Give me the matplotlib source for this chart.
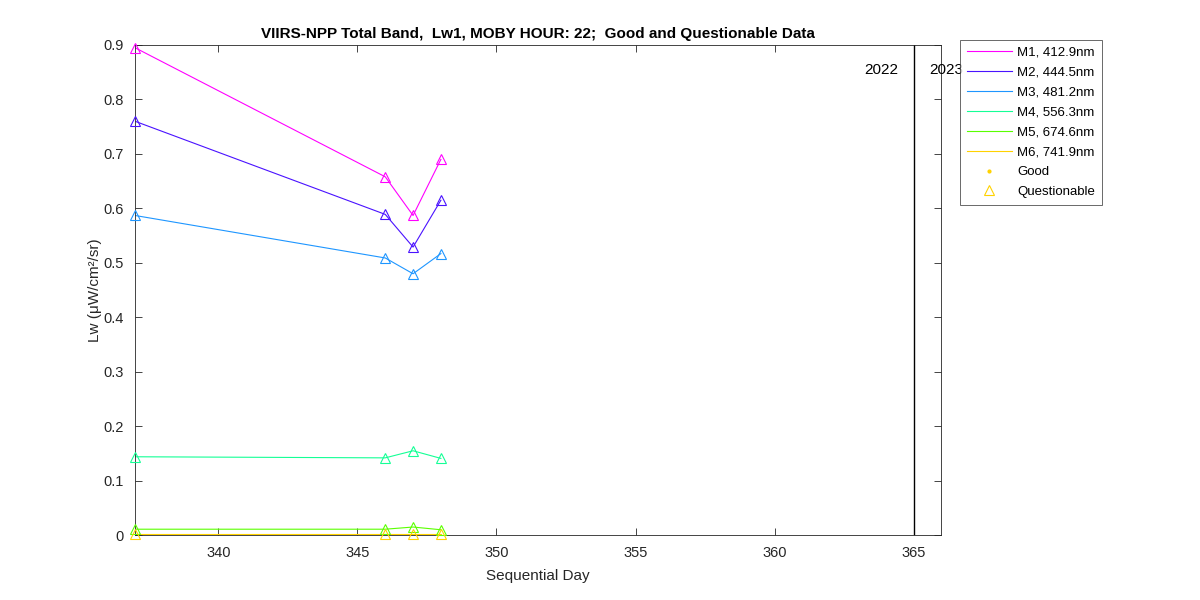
import matplotlib.pyplot as plt

plt.rcParams['font.family'] = ['Liberation Sans', 'DejaVu Sans']

days = [337, 346, 347, 348]
bands = ['M1, 412.9nm', 'M2, 444.5nm', 'M3, 481.2nm',
         'M4, 556.3nm', 'M5, 674.6nm', 'M6, 741.9nm']
lw_m1 = [0.895, 0.658, 0.587, 0.690]
lw_m2 = [0.760, 0.589, 0.529, 0.615]
lw_m3 = [0.587, 0.509, 0.480, 0.517]
lw_m4 = [0.144, 0.142, 0.155, 0.141]
lw_m5 = [0.011, 0.011, 0.015, 0.010]
lw_m6 = [0.002, 0.002, 0.002, 0.002]
colors = ['#ff00ff', '#4a12ff', '#1e96ff', '#14ff96', '#5aff00', '#ffd200']

year_end = 365
text_col = '#262626'

fig = plt.figure(figsize=(12, 6), dpi=100)
ax = fig.add_axes([0.1125, 0.108, 0.672, 0.817])

series = [lw_m1, lw_m2, lw_m3, lw_m4, lw_m5, lw_m6]
for vals, c, name in zip(series, colors, bands):
    ax.plot(days, vals, '-', color=c, lw=0.8, label=name)
for vals, c in zip(series, colors):
    ax.plot(days, vals, '^', color=c, mfc='none', ms=7, mew=0.8, clip_on=False, zorder=4)

# legend proxies for flags
ax.plot([], [], '.', color='#ffd200', ms=4, label='Good')
ax.plot([], [], '^', color='#ffd200', mfc='none', ms=7, mew=0.8, label='Questionable')

ax.axvline(year_end, color='k', lw=1)
ax.text(year_end - 0.55, 0.855, '2022', ha='right', va='center', fontsize=11)
ax.text(year_end + 0.55, 0.855, '2023', ha='left', va='center', fontsize=11)

ax.set_xlim(337, 366)
ax.set_ylim(0, 0.9)
ax.set_xticks([340, 345, 350, 355, 360, 365])
ax.set_yticks([0, 0.1, 0.2, 0.3, 0.4, 0.5, 0.6, 0.7, 0.8, 0.9])
ax.set_yticklabels(['0', '0.1', '0.2', '0.3', '0.4', '0.5', '0.6', '0.7', '0.8', '0.9'])
ax.tick_params(direction='in', top=True, right=True, labelsize=10.5, length=5, width=0.6,
               pad=8, labelcolor=text_col, color=text_col)
for s in ax.spines.values():
    s.set_linewidth(0.6)
    s.set_color(text_col)

ax.set_xlabel('Sequential Day', fontsize=11, color=text_col, labelpad=6)
ax.set_ylabel('Lw (μW/cm²/sr)', fontsize=11, color=text_col, labelpad=1)
ax.set_title('VIIRS-NPP Total Band,  Lw1, MOBY HOUR: 22;  Good and Questionable Data',
             fontsize=11, fontweight='bold', pad=5)

leg = ax.legend(loc='upper left', bbox_to_anchor=(1.0236, 1.0102), borderaxespad=0,
                fontsize=9.5, frameon=True, fancybox=False, edgecolor=text_col,
                handlelength=3.4, handletextpad=0.4, labelspacing=0.58, borderpad=0.5)
leg.get_frame().set_linewidth(0.6)

fig.savefig('out.png', dpi=100)
